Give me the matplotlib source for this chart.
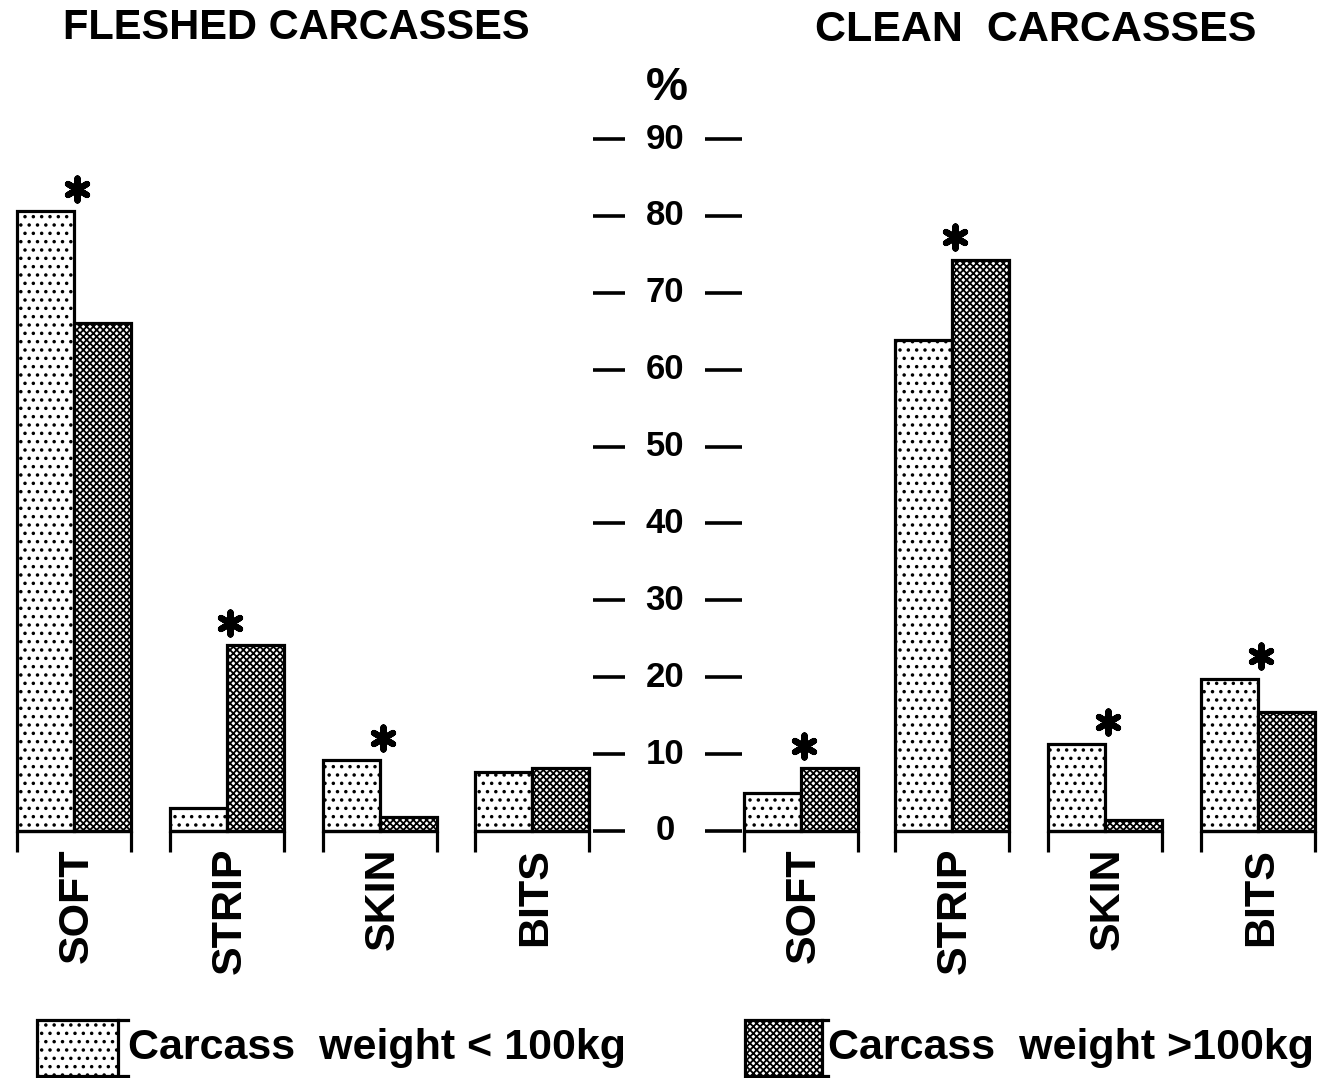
import numpy as np
import matplotlib
matplotlib.use("Agg")
import matplotlib.pyplot as plt
from matplotlib.patches import Rectangle

plt.rcParams['font.family'] = ['Liberation Sans', 'DejaVu Sans']
plt.rcParams['hatch.linewidth'] = 1.3

# data (% of carcasses)
categories = ['SOFT', 'STRIP', 'SKIN', 'BITS']
fleshed_light = [80.6, 3.0, 9.2, 7.7]    # carcass weight < 100 kg
fleshed_dark = [66.1, 24.2, 1.8, 8.2]    # carcass weight > 100 kg
clean_light = [4.9, 63.8, 11.3, 19.8]
clean_dark = [8.2, 74.3, 1.4, 15.5]
fleshed_sig = [True, True, True, False]
clean_sig = [True, True, True, True]
y_ticks = [0, 10, 20, 30, 40, 50, 60, 70, 80, 90]

# layout (pixels)
W, H = 1327, 1078
ZERO_PX = 831
PX_PER_UNIT = (831 - 139) / 90
BAR_W = 57
left_centers = np.array([74, 227, 380, 532])
right_centers = np.array([801, 952, 1105, 1258])
AXIS_X = 665
LW = 2.3
LIGHT_HATCH = '..'
DARK_HATCH = 'xxxxx'


def yd(ypx):
    return (ZERO_PX - ypx) / PX_PER_UNIT


fig = plt.figure(figsize=(W / 100, H / 100), dpi=100)
ax = fig.add_axes([0, 0, 1, 1])
ax.set_xlim(0, W)
ax.set_ylim(yd(H), yd(0))
ax.axis('off')

panels = [(left_centers, fleshed_light, fleshed_dark, fleshed_sig),
          (right_centers, clean_light, clean_dark, clean_sig)]

for centers, light, dark, sig in panels:
    ax.bar(centers - BAR_W, light, width=BAR_W, align='edge', facecolor='white',
           edgecolor='black', linewidth=LW, hatch=LIGHT_HATCH)
    ax.bar(centers, dark, width=BAR_W, align='edge', facecolor='white',
           edgecolor='black', linewidth=LW, hatch=DARK_HATCH)
    # baseline and end ticks of each group
    ax.hlines(np.zeros(len(centers)), centers - BAR_W, centers + BAR_W,
              color='black', lw=LW)
    ax.vlines(np.concatenate([centers - BAR_W, centers + BAR_W]), yd(852), 0,
              color='black', lw=LW)
    for c, cat in zip(centers, categories):
        ax.text(c + 3, yd(848), cat, rotation=90, ha='center', va='top',
                fontsize=31, fontweight='bold')
    # significance asterisks
    for c, a, b, s in zip(centers, light, dark, sig):
        if s:
            ax.scatter(c + 3, max(a, b) + 2.9, marker=(6, 2, 0), s=250,
                       color='black', linewidths=4.5, zorder=5)

# central % axis
for v in y_ticks:
    ax.hlines(v, 593, 625, color='black', lw=2.6)
    ax.hlines(v, 705, 742, color='black', lw=2.6)
    ax.text(AXIS_X, v, str(v), ha='center', va='center', fontsize=25,
            fontweight='bold')
ax.text(AXIS_X + 2, yd(88), '%', ha='center', va='center', fontsize=34,
        fontweight='bold')

# titles
ax.text(296, yd(28), 'FLESHED CARCASSES', ha='center', va='center',
        fontsize=30, fontweight='bold')
ax.text(1036, yd(30), 'CLEAN  CARCASSES', ha='center', va='center',
        fontsize=31, fontweight='bold')

# legend
legend_items = [(37, 118, 128, LIGHT_HATCH, 'Carcass  weight < 100kg'),
                (745, 822, 828, DARK_HATCH, 'Carcass  weight >100kg')]
for x0, x1, xt, hatch, label in legend_items:
    ax.add_patch(Rectangle((x0, yd(1076)), x1 - x0, yd(1020) - yd(1076),
                           facecolor='white', edgecolor='black', lw=LW,
                           hatch=hatch, clip_on=False))
    ax.plot([x1, xt], [yd(1020), yd(1020)], color='black', lw=LW)
    ax.plot([x1, xt], [yd(1076), yd(1076)], color='black', lw=LW)
    ax.text(xt, yd(1048), label, ha='left', va='center', fontsize=31,
            fontweight='bold')

fig.savefig('out.png', dpi=100)
